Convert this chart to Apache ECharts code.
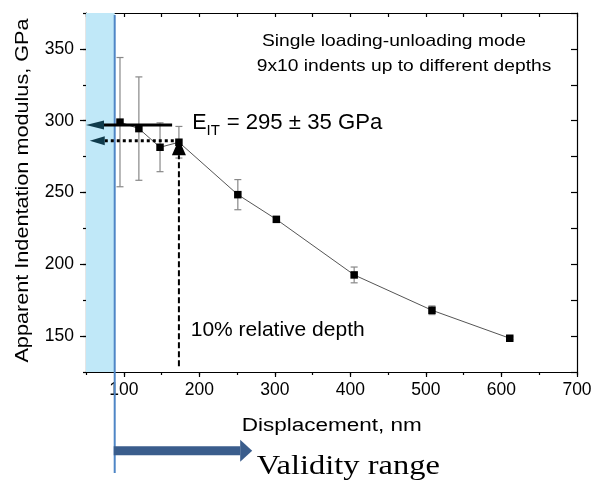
<!DOCTYPE html>
<html><head><meta charset="utf-8">
<script src="https://cdn.jsdelivr.net/npm/echarts@6/dist/echarts.min.js"></script>
<style>html,body{margin:0;padding:0;background:#fff}#c{width:603px;height:484px}</style>
</head><body><div id="c"></div>
<script>
// ---- data ----
const displacement = [95, 120, 148, 173, 251, 302, 405, 508, 611];
const modulus      = [299, 294.5, 281.5, 285, 248.5, 231.3, 192.6, 168, 148.5];
const modulusErr   = [45, 36, 17, 11, 10.5, 1.8, 5.5, 3, 1];
const xTickLabels  = [100, 200, 300, 400, 500, 600, 700];
const yTickLabels  = [150, 200, 250, 300, 350];
const validityStart = 88;          // nm, start of validity range
const validityArrowEnd = 270;      // nm, end of the "Validity range" arrow
const eitArrow   = [[164, 297], [50, 297]];   // E_IT read-off arrow (from, to)
const depthArrow = [[173, 286], [55, 286]];   // dotted read-off arrow
const depthLine  = [[173, 129], [173, 287]];  // 10% relative depth marker

const FONT = "'Liberation Sans', Arial, sans-serif";
const SERIF = "'Liberation Serif', 'Times New Roman', serif";

const pts = displacement.map((x, i) => [x, modulus[i]]);
const errData = displacement.map((x, i) => [x, modulus[i], modulusErr[i]]);

const axisCommonX = {type: 'value', min: 50, max: 700, interval: 50, splitLine: {show: false}};
const axisCommonY = {type: 'value', min: 125, max: 375, interval: 25, splitLine: {show: false}};
const blackLine = {lineStyle: {color: '#000', width: 1.2}};

const option = {
  animation: false,
  backgroundColor: '#fff',
  grid: {left: 86, right: 26, top: 13, bottom: 112, containLabel: false},
  xAxis: [
    Object.assign({}, axisCommonX, {position: 'bottom',
      axisLine: blackLine,
      axisTick: {customValues: xTickLabels, length: 5, lineStyle: {color: '#000', width: 1.2}},
      axisLabel: {customValues: xTickLabels, fontSize: 17.5, color: '#000', fontFamily: FONT, margin: 9}}),
    Object.assign({}, axisCommonX, {position: 'bottom',
      axisLine: {show: false},
      axisTick: {length: 3, lineStyle: {color: '#000', width: 1.2}},
      axisLabel: {show: false}}),
    Object.assign({}, axisCommonX, {position: 'top',
      axisLine: blackLine,
      axisTick: {inside: true, length: 4, lineStyle: {color: '#000', width: 1.2}},
      axisLabel: {show: false}})
  ],
  yAxis: [
    Object.assign({}, axisCommonY, {position: 'left',
      axisLine: blackLine,
      axisTick: {customValues: yTickLabels, length: 6, lineStyle: {color: '#000', width: 1.2}},
      axisLabel: {customValues: yTickLabels, fontSize: 17.5, color: '#000', fontFamily: FONT, margin: 12}}),
    Object.assign({}, axisCommonY, {position: 'left',
      axisLine: {show: false},
      axisTick: {length: 3, lineStyle: {color: '#000', width: 1.2}},
      axisLabel: {show: false}}),
    Object.assign({}, axisCommonY, {position: 'right',
      axisLine: blackLine,
      axisTick: {inside: true, length: 6, lineStyle: {color: '#000', width: 1.2}},
      axisLabel: {show: false}})
  ],
  series: [
    {
      type: 'custom', name: 'error', xAxisIndex: 0, yAxisIndex: 0, z: 2,
      data: errData,
      renderItem: function (params, api) {
        const x = api.value(0), y = api.value(1), e = api.value(2);
        const hi = api.coord([x, y + e]), lo = api.coord([x, y - e]);
        const w = 3.5, st = {stroke: '#888', lineWidth: 1.2};
        return {type: 'group', children: [
          {type: 'line', shape: {x1: hi[0], y1: hi[1], x2: lo[0], y2: lo[1]}, style: st},
          {type: 'line', shape: {x1: hi[0] - w, y1: hi[1], x2: hi[0] + w, y2: hi[1]}, style: st},
          {type: 'line', shape: {x1: lo[0] - w, y1: lo[1], x2: lo[0] + w, y2: lo[1]}, style: st}
        ]};
      }
    },
    {
      type: 'line', name: 'modulus', xAxisIndex: 0, yAxisIndex: 0, z: 3,
      data: pts,
      symbol: 'rect', symbolSize: 7.5,
      itemStyle: {color: '#000'},
      lineStyle: {color: '#555', width: 1},
      markArea: {
        silent: true,
        itemStyle: {color: '#c0e8f8'},
        data: [[{xAxis: 50}, {xAxis: validityStart}]]
      }
    }
  ]
};

const chart = echarts.init(document.getElementById('c'), null, {renderer: 'canvas'});
chart.setOption(option);

const P = (v) => chart.convertToPixel({seriesIndex: 1}, v);
const g = [];
const teal = '#0f3b4c';

// validity line
const bx = P([validityStart, 375])[0];
const topPx = P([validityStart, 375])[1];
g.push({type: 'line', z: 10, shape: {x1: bx, y1: topPx + 2, x2: bx, y2: 473}, style: {stroke: '#4f86c6', lineWidth: 2}});
// validity arrow (below axis)
const ax2 = P([validityArrowEnd, 375])[0];
const ay = 450.7;
g.push({type: 'rect', z: 10, shape: {x: bx - 1, y: ay - 4.5, width: ax2 - 12 - bx + 1, height: 9}, style: {fill: '#3a5d8c'}});
g.push({type: 'polygon', z: 10, shape: {points: [[ax2 - 12, ay - 11], [ax2, ay], [ax2 - 12, ay + 11]]}, style: {fill: '#3a5d8c'}});

// E_IT solid arrow
{
  const a = P(eitArrow[0]), b = P(eitArrow[1]);
  const hl = 18, hh = 4.5;
  g.push({type: 'line', z: 10, shape: {x1: b[0] + hl - 1, y1: b[1], x2: a[0], y2: a[1]}, style: {stroke: '#000', lineWidth: 3}});
  g.push({type: 'polygon', z: 11, shape: {points: [[b[0], b[1]], [b[0] + hl, b[1] - hh], [b[0] + hl, b[1] + hh]]}, style: {fill: teal}});
}
// dotted arrow
{
  const a = P(depthArrow[0]), b = P(depthArrow[1]);
  const hl = 15, hh = 4.5;
  g.push({type: 'line', z: 10, shape: {x1: b[0] + hl, y1: b[1], x2: a[0], y2: a[1]}, style: {stroke: '#000', lineWidth: 3, lineDash: [3, 3]}});
  g.push({type: 'polygon', z: 11, shape: {points: [[b[0], b[1]], [b[0] + hl, b[1] - hh], [b[0] + hl, b[1] + hh]]}, style: {fill: teal}});
}
// vertical dashed arrow
{
  const a = P(depthLine[0]), b = P(depthLine[1]);
  const hl = 16, hw = 7;
  g.push({type: 'line', z: 10, shape: {x1: a[0], y1: a[1], x2: b[0], y2: b[1] + hl}, style: {stroke: '#000', lineWidth: 2, lineDash: [6, 3]}});
  g.push({type: 'polygon', z: 11, shape: {points: [[b[0], b[1]], [b[0] - hw, b[1] + hl], [b[0] + hw, b[1] + hl]]}, style: {fill: '#000'}});
}

function txt(text, x, y, fs, opt) {
  opt = opt || {};
  return {type: 'text', z: 12, x: x, y: y, rotation: opt.rot || 0, scaleX: opt.sx || 1,
    style: {text: text, fontSize: fs, fontFamily: opt.ff || FONT, fill: '#000',
      textAlign: opt.align || 'left', align: opt.align || 'left',
      textVerticalAlign: 'middle', verticalAlign: 'middle'}};
}
g.push(txt('Single loading-unloading mode', 262, 41.6, 16.5, {sx: 1.165}));
g.push(txt('9x10 indents up to different depths', 256.7, 66.6, 16.5, {sx: 1.165}));
g.push(txt('E', 192.3, 122.6, 21.5));
g.push(txt('IT', 206.5, 130.4, 15));
g.push(txt(' = 295 ± 35 GPa', 220.5, 122.6, 21.5, {sx: 1.03}));
g.push(txt('10% relative depth', 190.7, 330.2, 21));
g.push(txt('Displacement, nm', 331.7, 426.5, 18, {sx: 1.25, align: 'center'}));
g.push(txt('Apparent Indentation modulus, GPa', 22.6, 190.5, 18.5, {sx: 1.17, align: 'center', rot: Math.PI / 2}));
g.push(txt('Validity range', 256.7, 466.5, 28, {sx: 1.16, ff: SERIF}));

chart.setOption({graphic: g});
</script>
</body></html>
